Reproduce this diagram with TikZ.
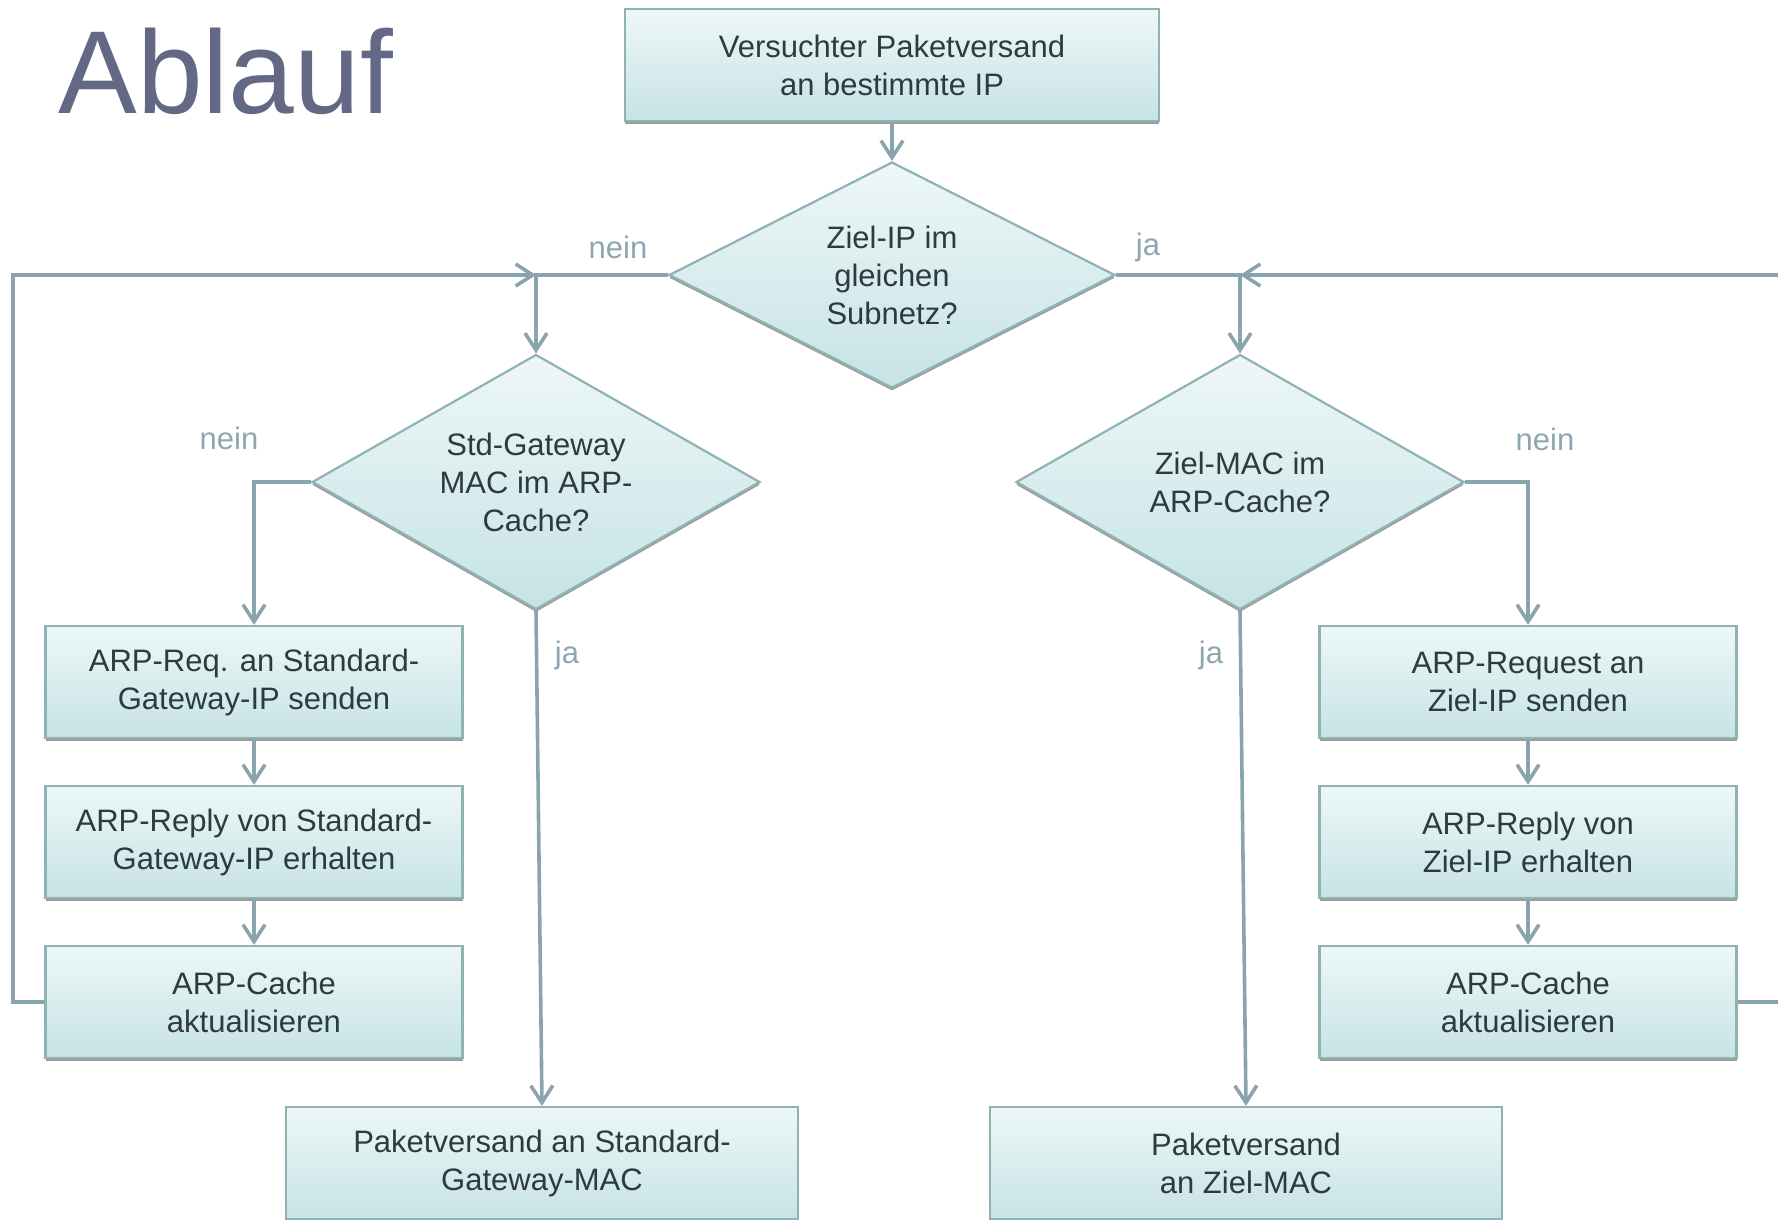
\documentclass[tikz,border=0pt]{standalone}
\usepackage{fontspec}
\setmainfont{Liberation Sans}
\usetikzlibrary{shapes.geometric, arrows.meta, shadows}

\definecolor{boxtop}{HTML}{EEF7F7}
\definecolor{boxbot}{HTML}{C6E3E5}
\definecolor{boxline}{HTML}{8FB2B4}
\definecolor{flowline}{HTML}{8AA4AE}
\definecolor{labeltext}{HTML}{8EA6B0}
\definecolor{titletext}{HTML}{636985}
\definecolor{bodytext}{HTML}{2D3B3E}

\begin{document}
\begin{tikzpicture}[x=0.5pt, y=-0.5pt,
    shape base/.style={draw=boxline, line width=1.1pt, top color=boxtop, bottom color=boxbot,
        text=bodytext, align=center, inner sep=0pt, font=\fontsize{15.5}{19}\selectfont,
        drop shadow={shadow xshift=0pt, shadow yshift=-1.4pt, fill=black!70, opacity=0.55}},
    stepbox/.style={shape base, rectangle, minimum width=208.5pt, minimum height=56pt},
    widebox/.style={shape base, rectangle, minimum width=256pt, minimum height=56pt},
    decision/.style={shape base, diamond, minimum width=224pt, minimum height=127.5pt, aspect=1.76},
    flow/.style={draw=flowline, line width=1.8pt, -{Straight Barb[length=8.5pt, width=11pt]}},
    lbl/.style={text=labeltext, font=\fontsize{15.5}{19}\selectfont, inner sep=0pt}]

    % Frame of the slide
    \useasboundingbox (0,0) rectangle (1778,1220);
    \clip (0,0) rectangle (1778,1220);

    % Title
    \node[anchor=base west, inner sep=0pt, text=titletext, font=\fontsize{59}{60}\selectfont] (title) at (58,113) {Ablauf};

    % Start and first decision
    \node[shape base, rectangle, minimum width=267pt, minimum height=56pt] (start) at (892,65) {Versuchter Paketversand\\an bestimmte IP};
    \node[decision, minimum width=223pt, minimum height=113pt, aspect=1.97] (subnet) at (892,275) {Ziel-IP im\\gleichen\\Subnetz?};

    % Second level decisions
    \node[decision] (gwmac) at (536,482) {Std-Gateway\\MAC im ARP-\\Cache?};
    \node[decision] (mac) at (1240,482) {Ziel-MAC im\\ARP-Cache?};

    % Left column: gateway lookup
    \node[stepbox] (gwreq) at (254,682) {ARP-Req. an Standard-\\Gateway-IP senden};
    \node[stepbox] (gwrep) at (254,842) {ARP-Reply von Standard-\\Gateway-IP erhalten};
    \node[stepbox] (gwcache) at (254,1002) {ARP-Cache\\aktualisieren};

    % Right column: target lookup
    \node[stepbox] (req) at (1528,682) {ARP-Request an\\Ziel-IP senden};
    \node[stepbox] (rep) at (1528,842) {ARP-Reply von\\Ziel-IP erhalten};
    \node[stepbox] (cache) at (1528,1002) {ARP-Cache\\aktualisieren};

    % Sending
    \node[widebox] (gwsend) at (542,1163) {Paketversand an Standard-\\Gateway-MAC};
    \node[widebox] (send) at (1246,1163) {Paketversand\\an Ziel-MAC};

    % Junctions and turning points
    \coordinate (nsplit) at (gwmac.north |- subnet.west);
    \coordinate (jsplit) at (mac.north |- subnet.east);
    \coordinate (lturn) at (13,1002);
    \coordinate (rturn) at (1800,1002);

    % Connectors
    \draw[flow] (start) -- (subnet);
    \draw[flow] (subnet.west) -| (gwmac.north);
    \draw[flow] (subnet.east) -| (mac.north);
    \draw[flow] (gwmac.west) -| (gwreq.north);
    \draw[flow] (mac.east) -| (req.north);
    \foreach \a/\b in {gwreq/gwrep, gwrep/gwcache, req/rep, rep/cache}
        \draw[flow] (\a) -- (\b);
    \draw[flow] (gwmac.south) -- (gwsend.north);
    \draw[flow] (mac.south) -- (send.north);

    % Back to the first split
    \draw[flow] (gwcache.west) -- (lturn) |- (nsplit);
    \draw[flow] (cache.east) -- (rturn) |- (jsplit);

    % Branch labels
    \node[lbl] (nein1) at (618,247) {nein};
    \node[lbl] (ja1) at (1148,247) {ja};
    \node[lbl] (nein2) at (229,438) {nein};
    \node[lbl] (nein3) at (1545,439) {nein};
    \node[lbl] (ja2) at (567,655) {ja};
    \node[lbl] (ja3) at (1211,655) {ja};
\end{tikzpicture}
\end{document}
